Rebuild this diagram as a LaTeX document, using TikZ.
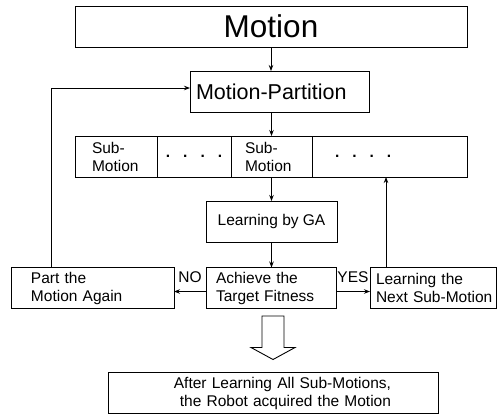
\documentclass[tikz,border=0pt]{standalone}
\usepackage{fontspec}
\setmainfont{Liberation Sans}
\usetikzlibrary{positioning,arrows.meta}

\newcommand{\rowdots}{\textbf{.}\hspace{13bp}\textbf{.}\hspace{13bp}\textbf{.}\hspace{13bp}\textbf{.}}

\begin{document}
\begin{tikzpicture}[
    x=1bp, y=-1bp,
    font=\fontsize{15.5bp}{18bp}\selectfont,
    >={Stealth[length=6bp,width=4.5bp]},
    base/.style={rectangle,draw,line width=0.9bp,inner sep=0pt,outer sep=0pt,minimum height=41bp},
    leftbox/.style={base,align=left},
    cell/.style={leftbox,minimum height=41bp},
    link/.style={->,line width=0.8bp}
  ]
  \useasboundingbox (0,0) rectangle (497,415);

  \node(motion) [base,minimum width=392bp,font=\fontsize{31.5bp}{36bp}\selectfont] at (271,26.5) {Motion};
  \node(partition) [leftbox,minimum width=179bp,inner xsep=6bp,text width=167bp,font=\fontsize{21.5bp}{24bp}\selectfont] at (279.5,91.5) {Motion-Partition};

  % row of sub-motions
  \node(c1) [cell,minimum width=82bp,inner xsep=17bp,text width=48bp] at (116,156.5) {Sub-\\Motion};
  \node(c2) [cell,minimum width=74bp,align=center,right=0pt of c1] {\rowdots};
  \node(c3) [cell,minimum width=81bp,inner xsep=14bp,text width=53bp,right=0pt of c2] {Sub-\\Motion};
  \node(c4) [cell,minimum width=155bp,inner xsep=23bp,text width=109bp,right=0pt of c3] {\rowdots};

  \node(ga) [base,minimum width=131bp] at (271.5,221.5) {Learning by GA};

  \node(achieve) [leftbox,minimum width=130bp,inner xsep=10bp,text width=110bp] at (271,288) {Achieve the\\Target Fitness};
  \node(part) [leftbox,minimum width=163bp,inner xsep=20bp,text width=123bp] at (92.5,288) {Part the\\Motion Again};
  \node(next) [leftbox,minimum width=126bp,inner xsep=6bp,text width=114bp] at (433,288) {Learning the\\\mbox{Next Sub-Motion}};

  \node(final) [base,minimum width=330bp,minimum height=40.5bp,inner xsep=47bp,text width=236bp,align=right] at (273,393) {After Learning All Sub-Motions,\\the Robot acquired the Motion};

  \draw[link] (motion.south) -- (motion.south |- partition.north);
  \draw[link] (partition.south -| c3.north) -- (c3.north);
  \draw[link] (c3.south) -- (ga.north);
  \draw[link] (ga.south) -- (ga.south |- achieve.north);
  \draw[link] ([yshift=-3.5bp]achieve.west) -- node[above=5.5bp]{NO} ([yshift=-3.5bp]achieve.west -| part.east);
  \draw[link] ([yshift=-3.5bp]achieve.east) -- node[above=5.5bp]{YES} ([yshift=-3.5bp]achieve.east -| next.west);
  \draw[link] ([xshift=40bp]part.north west) |- ([yshift=3.5bp]partition.west);
  \draw[link] ([xshift=16bp]next.north west) -- ([xshift=16bp]next.north west |- c4.south);

  % hollow arrow to the result
  \draw[line width=0.9bp] (262,316) -- (284,316) -- (284,347.5) -- (295,347.5) -- (273,359.5) -- (251,347.5) -- (262,347.5) -- cycle;

\end{tikzpicture}
\end{document}
